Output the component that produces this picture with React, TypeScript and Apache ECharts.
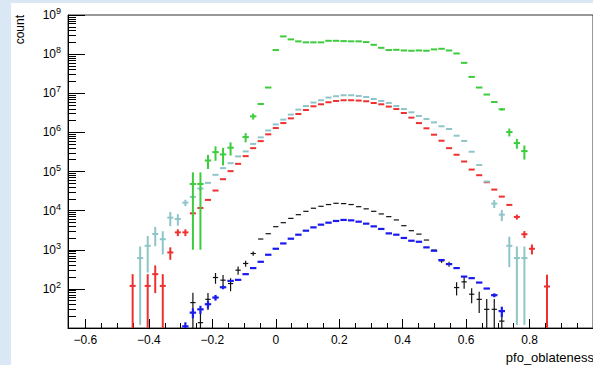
import React, { useEffect, useRef } from 'react';
import * as echarts from 'echarts';

// ---- binning (bin index k runs from -19 to 36) ----
const BIN_WIDTH = 0.02375;
const FIRST_BIN = -19;
const N_BINS = 56;
const binCenters: number[] = Array.from({ length: N_BINS }, (_, i) => (i + FIRST_BIN) * BIN_WIDTH);

// ---- series values (null = empty bin) ----
const greenCounts = [
  null, null, null, null, null, null, null, null,
  48000, 48000, 191000, 313000, 273000, 406000, null, 757000,
  2.57e6, 5.32e6, 1.40e7, 1.27e8, 2.84e8, 2.38e8, 2.12e8, 2.0e8,
  2.0e8, 2.0e8, 2.19e8, 2.19e8, 2.15e8, 2.12e8, 2.12e8, 2.03e8,
  1.73e8, 1.45e8, 1.27e8, 1.29e8, 1.24e8, 1.22e8, 1.24e8, 1.22e8,
  1.32e8, 1.37e8, 1.24e8, 1.04e8, 5.98e7, 2.62e7, 1.40e7, 9.27e6,
  5.98e6, 3.89e6, 1.02e6, 5.32e5, 3.32e5, null, null, null,
];
const greenErrors = [
  0, 0, 0, 0, 0, 0, 0, 0,
  47000, 47000, 75000, 125000, 130000, 150000, 0, 200000,
  450000, 300000, 0, 0, 0, 0, 0, 0,
  0, 0, 0, 0, 0, 0, 0, 0,
  0, 0, 0, 0, 0, 0, 0, 0,
  0, 0, 0, 0, 0, 0, 0, 0,
  0, 300000, 230000, 150000, 130000, 0, 0, 0,
];
const tealCounts = [
  null, 612, 1260, 2530, 1860, 6620, 6120, 16000,
  22400, 36600, 51300, 82200, 1.22e5, 1.63e5, 2.43e5, 3.26e5,
  5.07e5, 7.45e5, 1.12e6, 1.60e6, 2.12e6, 2.85e6, 3.82e6, 4.72e6,
  5.78e6, 6.62e6, 7.76e6, 8.38e6, 8.89e6, 8.89e6, 8.53e6, 8.04e6,
  7.14e6, 6.35e6, 5.64e6, 4.72e6, 3.95e6, 3.26e6, 2.62e6, 2.19e6,
  1.80e6, 1.43e6, 1.22e6, 8.22e5, 6.05e5, 3.2e5, 1.47e5, 5.55e4,
  1.51e4, 7880, 1260, 612, 612, null, null, null,
];
const tealErrors = [
  0, 600, 1000, 1300, 1100, 2600, 2000, 3000,
  3000, 4000, 0, 0, 0, 0, 0, 0,
  0, 0, 0, 0, 0, 0, 0, 0,
  0, 0, 0, 0, 0, 0, 0, 0,
  0, 0, 0, 0, 0, 0, 0, 0,
  0, 0, 0, 0, 0, 0, 0, 0,
  3500, 2500, 900, 600, 600, 0, 0, 0,
];
const redCounts = [
  119, null, 119, 238, 119, 853, 2780, 2780,
  8530, 11700, 18800, 32600, 63500, 1.02e5, 1.57e5, 2.47e5,
  3.95e5, 5.98e5, 8.9e5, 1.29e6, 1.73e6, 2.28e6, 2.95e6, 3.73e6,
  4.64e6, 5.22e6, 5.88e6, 6.35e6, 6.62e6, 6.62e6, 6.5e6, 6.24e6,
  5.64e6, 5.22e6, 4.56e6, 3.95e6, 3.13e6, 2.38e6, 1.73e6, 1.27e6,
  8.73e5, 6.12e5, 3.95e5, 2.68e5, 1.80e5, 1.12e5, 8.04e4, 5.32e4,
  3.45e4, 2.28e4, 1.40e4, 6890, 2500, 1060, null, 115,
];
const redErrors = [
  119, 0, 119, 160, 119, 300, 550, 550,
  1000, 0, 0, 0, 0, 0, 0, 0,
  0, 0, 0, 0, 0, 0, 0, 0,
  0, 0, 0, 0, 0, 0, 0, 0,
  0, 0, 0, 0, 0, 0, 0, 0,
  0, 0, 0, 0, 0, 0, 0, 0,
  0, 0, 0, 1000, 500, 300, 0, 115,
];
const blueCounts = [
  null, null, null, null, null, null, null, 11,
  24.7, 30, 40.5, 60, 110, 160, 170, 238,
  340, 492, 745, 1060, 1450, 1915, 2425, 3070,
  3730, 4380, 4920, 5440, 5780, 5640, 5220, 4640,
  3960, 3400, 2620, 2425, 2000, 1700, 1600, 1150,
  942, 545, 430, 340, 206, 188, 145, 102,
  69, 27, null, null, null, null, null, null,
];
const blueErrors = [
  0, 0, 0, 0, 0, 0, 0, 3,
  7, 7, 9, 10, 12, 0, 0, 0,
  0, 0, 0, 0, 0, 0, 0, 0,
  0, 0, 0, 0, 0, 0, 0, 0,
  0, 0, 0, 0, 0, 0, 0, 0,
  0, 0, 0, 0, 0, 0, 0, 0,
  8, 8, 0, 0, 0, 0, 0, 0,
];
const blackCounts = [
  null, null, null, null, null, null, null, null,
  44.6, 13.7, 54, 195, 167, 137, 301, 446,
  803, 1880, 2570, 3890, 4920, 6340, 7880, 9600,
  11500, 12900, 14300, 15400, 15100, 14300, 12600, 11100,
  9600, 8230, 7020, 5780, 4120, 3070, 2510, 1770,
  980, 522, 430, 108, 151, 73, 54, 30,
  30, 15, null, null, null, null, null, null,
];
const blackErrors = [
  0, 0, 0, 0, 0, 0, 0, 0,
  35, 13, 25, 60, 60, 50, 70, 80,
  100, 0, 0, 0, 0, 0, 0, 0,
  0, 0, 0, 0, 0, 0, 0, 0,
  0, 0, 0, 0, 0, 0, 0, 0,
  0, 60, 60, 40, 50, 30, 30, 25,
  25, 14, 0, 0, 0, 0, 0, 0,
];

// ---- axis ticks / labels ----
const xMajorTicks = [-0.6, -0.4, -0.2, 0, 0.2, 0.4, 0.6, 0.8];
const xMinorTicks = [-0.55, -0.5, -0.45, -0.35, -0.3, -0.25, -0.15, -0.1, -0.05, 0.05, 0.1, 0.15,
  0.25, 0.3, 0.35, 0.45, 0.5, 0.55, 0.65, 0.7, 0.75, 0.85, 0.9, 0.95];
const yMajorTicks = [1e1, 1e2, 1e3, 1e4, 1e5, 1e6, 1e7, 1e8, 1e9];
const yLabelTicks = [1e2, 1e3, 1e4, 1e5, 1e6, 1e7, 1e8, 1e9];
const yMinorMultipliers = [2, 3, 4, 5, 6, 7, 8, 9];

const FONT = "'Liberation Sans', Arial, Helvetica, sans-serif";

function buildData(counts: (number | null)[], errs: number[]) {
  const out: number[][] = [];
  counts.forEach((v, i) => {
    if (v != null) out.push([binCenters[i], v, errs[i] || 0]);
  });
  return out;
}

function histSeries(name: string, counts: (number | null)[], errs: number[], color: string, lw: number, frac: number) {
  return {
    type: 'custom',
    name,
    clip: true,
    xAxisIndex: 0,
    yAxisIndex: 0,
    encode: { x: 0, y: 1 },
    data: buildData(counts, errs),
    renderItem: (params: any, api: any) => {
      const x = api.value(0) as number;
      const y = api.value(1) as number;
      const e = (api.value(2) as number) || 0;
      const half = (BIN_WIDTH * frac) / 2;
      const pl = api.coord([x - half, y]);
      const pr = api.coord([x + half, y]);
      const pc = api.coord([x, y]);
      const children: any[] = [
        { type: 'line', shape: { x1: pl[0], y1: pl[1], x2: pr[0], y2: pr[1] }, style: { stroke: color, lineWidth: lw } },
      ];
      if (e > 0) {
        const top = api.coord([x, y + e]);
        const lowV = y - e > 1 ? y - e : 1;
        const bot = api.coord([x, lowV]);
        children.push({ type: 'line', shape: { x1: pc[0], y1: top[1], x2: pc[0], y2: bot[1] }, style: { stroke: color, lineWidth: lw } });
      }
      return { type: 'group', children };
    },
  };
}

export default function App() {
  const ref = useRef<HTMLDivElement>(null);
  useEffect(() => {
    if (!ref.current) return;
    const chart = echarts.init(ref.current, undefined, { renderer: 'svg' });
    const yMinor: number[] = [];
    for (let d = 1; d < 9; d++) yMinorMultipliers.forEach((m) => yMinor.push(m * Math.pow(10, d)));
    const xMin = -0.655, xMax = 1.0;
    chart.setOption({
      animation: false,
      backgroundColor: '#ffffff',
      grid: { left: 68, right: -2, top: 15, bottom: 37, show: true, borderColor: '#333', borderWidth: 1, backgroundColor: 'transparent' },
      xAxis: [
        {
          type: 'value', min: xMin, max: xMax, position: 'bottom',
          axisLine: { show: true, onZero: false, lineStyle: { color: '#000', width: 1 } },
          axisTick: { show: true, inside: true, length: 9, customValues: xMajorTicks, lineStyle: { color: '#000' } },
          axisLabel: {
            customValues: xMajorTicks, color: '#000', fontSize: 12, fontFamily: FONT, margin: 6,
            formatter: (v: number) => (Math.abs(v) < 1e-9 ? '0' : (v < 0 ? '\u2212' : '') + Math.abs(v).toFixed(1)),
          },
          splitLine: { show: false },
        },
        {
          type: 'value', min: xMin, max: xMax, position: 'bottom',
          axisLine: { show: false, onZero: false },
          axisTick: { show: true, inside: true, length: 5, customValues: xMinorTicks, lineStyle: { color: '#000' } },
          axisLabel: { show: false },
          splitLine: { show: false },
        },
      ],
      yAxis: [
        {
          type: 'log', logBase: 10, min: 10, max: 1e9, position: 'left',
          axisLine: { show: true, onZero: false, lineStyle: { color: '#000', width: 1 } },
          axisTick: { show: true, inside: true, length: 17, customValues: yMajorTicks, lineStyle: { color: '#000' } },
          axisLabel: {
            customValues: yLabelTicks, color: '#000', fontSize: 12, fontFamily: FONT, margin: 7,
            formatter: (v: number) => '10{s|' + Math.round(Math.log10(v)) + '}',
            rich: { s: { fontSize: 9, fontFamily: FONT, color: '#000', padding: [0, 0, 8, 0] } },
          },
          splitLine: { show: false },
        },
        {
          type: 'log', logBase: 10, min: 10, max: 1e9, position: 'left',
          axisLine: { show: false, onZero: false },
          axisTick: { show: true, inside: true, length: 8, customValues: yMinor, lineStyle: { color: '#000' } },
          axisLabel: { show: false },
          splitLine: { show: false },
        },
      ],
      graphic: [
        { type: 'rect', shape: { x: 0, y: 0, width: 11, height: 365 }, style: { fill: '#d9e8f4' }, silent: true },
        { type: 'rect', shape: { x: 0, y: 0, width: 593, height: 3 }, style: { fill: '#d9e8f4' }, silent: true },
        {
          type: 'text', x: 14, y: 15, rotation: Math.PI / 2,
          style: { text: 'count', fontSize: 12, fontFamily: FONT, fill: '#000', align: 'right', verticalAlign: 'top' },
        },
        {
          type: 'text', x: 594, y: 357,
          style: { text: 'pfo_oblateness', fontSize: 13, fontFamily: FONT, fill: '#000', align: 'right', verticalAlign: 'middle' },
        },
      ],
      series: [
        histSeries('black', blackCounts, blackErrors, '#111111', 1.2, 0.7),
        histSeries('blue', blueCounts, blueErrors, '#1a1aee', 2.2, 0.85),
        histSeries('red', redCounts, redErrors, '#ee3030', 2, 0.8),
        histSeries('teal', tealCounts, tealErrors, '#8ec5c9', 2, 0.8),
        histSeries('green', greenCounts, greenErrors, '#3ccc3c', 2, 0.85),
      ],
    });
    return () => chart.dispose();
  }, []);
  return <div ref={ref} style={{ position: 'absolute', left: 0, top: 0, width: 593, height: 365 }} />;
}
